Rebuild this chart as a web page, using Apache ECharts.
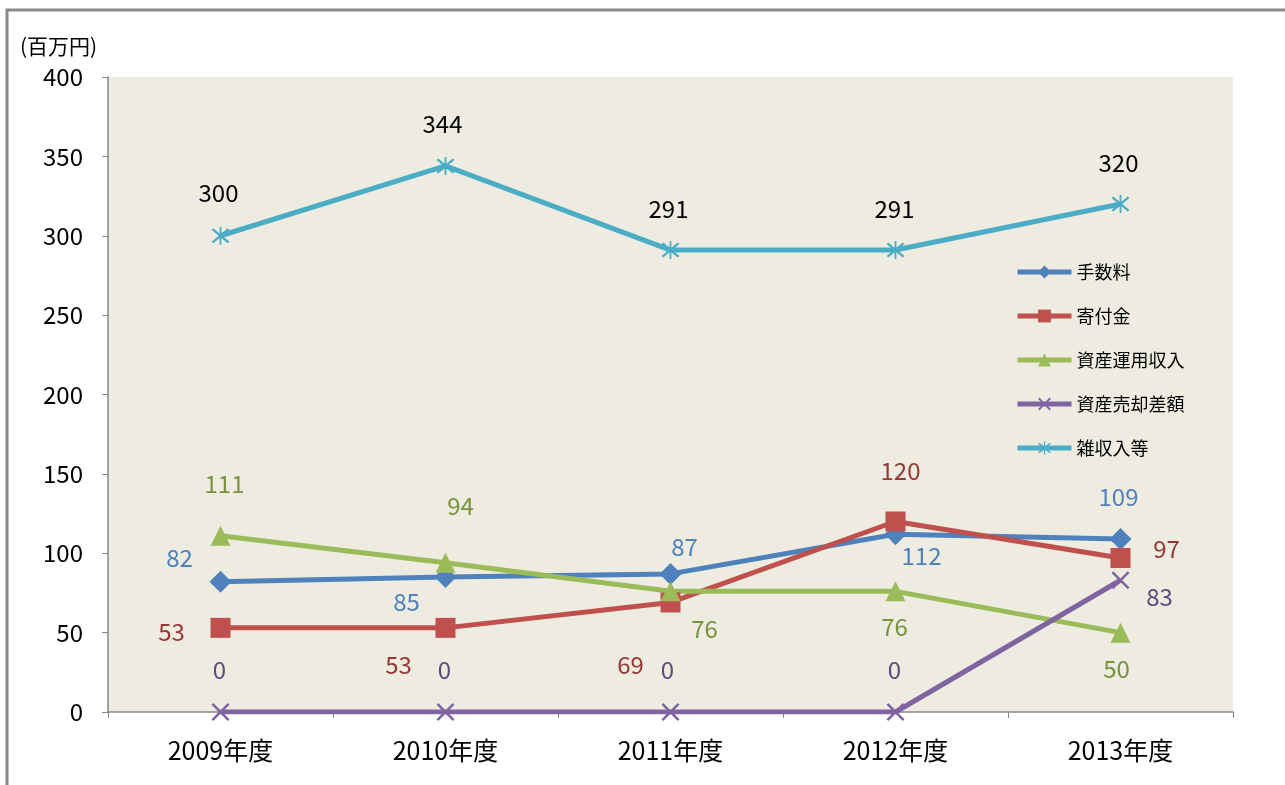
<!DOCTYPE html>
<html>
<head>
<meta charset="utf-8">
<script src="https://cdn.jsdelivr.net/npm/echarts@6/dist/echarts.min.js"></script>
<style>
  html, body { margin: 0; padding: 0; background: #fff; }
  #chart { width: 1285px; height: 785px; }
</style>
</head>
<body>
<div id="chart"></div>
<script>
// カテゴリと値
const years = ["2009年度", "2010年度", "2011年度", "2012年度", "2013年度"];
const fees = [82, 85, 87, 112, 109];          // 手数料
const donations = [53, 53, 69, 120, 97];      // 寄付金
const investIncome = [111, 94, 76, 76, 50];   // 資産運用収入
const saleGains = [0, 0, 0, 0, 83];           // 資産売却差額
const misc = [300, 344, 291, 291, 320];       // 雑収入等
const yTicks = [0, 50, 100, 150, 200, 250, 300, 350, 400];

// ラベル位置(点からのずれ)
const feesOffsets = [[-41, -24], [-39, 25], [14, -27], [26, 22], [-2, -42]];
const donationsOffsets = [[-49, 4], [-47, 37], [-40, 62], [5, -51], [46, -9]];
const investOffsets = [[4, -52], [15, -57], [34, 38], [-1, 36], [-4, 36]];
const saleOffsets = [[-1, -42], [-1, -42], [-3, -42], [-1, -42], [39, 17]];
const miscOffsets = [[-2, -43], [-3, -42], [-2, -41], [-1, -41], [-2, -41]];

const X_PATH = "path://M0,1 L1,0 L5,4 L9,0 L10,1 L6,5 L10,9 L9,10 L5,6 L1,10 L0,9 L4,5 Z";
const STAR_PATH = "path://M0,1 L1,0 L5,4 L9,0 L10,1 L6,5 L10,9 L9,10 L5,6 L1,10 L0,9 L4,5 Z M4.5,-1 L5.5,-1 L5.5,11 L4.5,11 Z";

const font = '"Noto Sans CJK JP", "Noto Sans", sans-serif';

const withLabels = (values, offsets, color) =>
  values.map((v, i) => ({
    value: v,
    label: { show: true, position: "inside", offset: offsets[i], color: color },
  }));

const makeSeries = (name, values, offsets, lineColor, labelColor, symbol, size) => ({
  name: name,
  type: "line",
  data: withLabels(values, offsets, labelColor),
  symbol: symbol,
  symbolSize: size,
  showSymbol: true,
  lineStyle: { color: lineColor, width: 5 },
  itemStyle: { color: lineColor },
  label: { fontSize: 24, fontFamily: font },
  emphasis: { disabled: true },
  z: 3,
});

const chart = echarts.init(document.getElementById("chart"));

const option = {
  animation: false,
  textStyle: { fontFamily: font },
  graphic: [
    {
      type: "rect",
      shape: { x: 7, y: 10, width: 1300, height: 800 },
      style: { fill: "none", stroke: "#888888", lineWidth: 3 },
    },
    {
      type: "text",
      left: 20,
      top: 36,
      style: { text: "(百万円)", fontSize: 21, fill: "#000", fontFamily: font },
    },
  ],
  grid: {
    left: 108,
    right: 52,
    top: 77,
    bottom: 73,
    show: true,
    backgroundColor: "#EEECE1",
    borderWidth: 0,
  },
  legend: {
    orient: "vertical",
    left: 1010,
    top: 258,
    itemWidth: 54,
    itemHeight: 16,
    itemGap: 26,
    lineStyle: { width: 5 },
    textStyle: { fontSize: 18, color: "#000", fontFamily: font },
    data: ["手数料", "寄付金", "資産運用収入", "資産売却差額", "雑収入等"],
  },
  xAxis: {
    type: "category",
    data: years,
    boundaryGap: true,
    axisLine: { lineStyle: { color: "#868686", width: 1.5 } },
    axisTick: { show: true, length: 6, lineStyle: { color: "#868686" } },
    axisLabel: { fontSize: 25, color: "#000", margin: 26, fontFamily: font },
    splitLine: { show: false },
  },
  yAxis: {
    type: "value",
    min: yTicks[0],
    max: yTicks[yTicks.length - 1],
    interval: 50,
    axisLine: { show: true, lineStyle: { color: "#868686", width: 1.5 } },
    axisTick: { show: true, length: 6, lineStyle: { color: "#868686" } },
    axisLabel: { fontSize: 24, color: "#000", margin: 25, fontFamily: font },
    splitLine: { show: false },
  },
  series: [
    makeSeries("手数料", fees, feesOffsets, "#4F81BD", "#4F81BD", "diamond", 22),
    makeSeries("寄付金", donations, donationsOffsets, "#C0504D", "#953735", "rect", 20),
    makeSeries("資産運用収入", investIncome, investOffsets, "#9BBB59", "#77933C", "triangle", 20),
    makeSeries("資産売却差額", saleGains, saleOffsets, "#8064A2", "#604A7B", X_PATH, 18),
    makeSeries("雑収入等", misc, miscOffsets, "#4BACC6", "#000000", STAR_PATH, 18),
  ],
};

chart.setOption(option);
</script>
</body>
</html>
